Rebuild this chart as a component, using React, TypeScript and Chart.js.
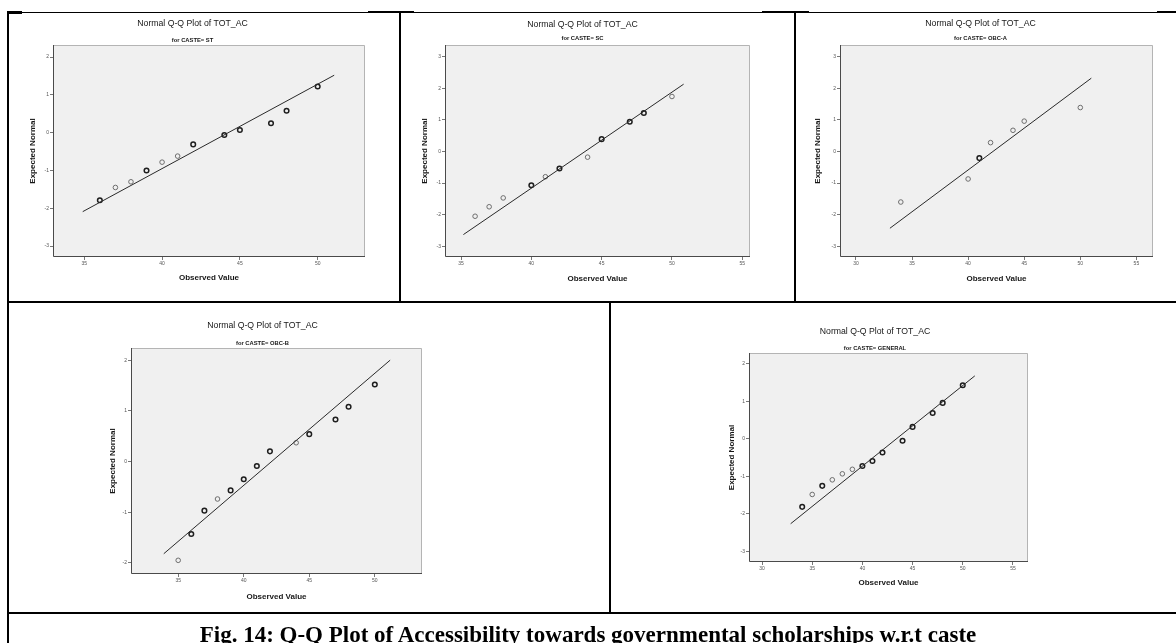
import React, { useEffect, useRef } from 'react';
import { Chart, registerables } from 'chart.js';

Chart.register(...registerables);

// ---- Text ----
const plotTitle = 'Normal Q-Q Plot of TOT_AC';
const xAxisTitle = 'Observed Value';
const yAxisTitle = 'Expected Normal';
const caption = 'Fig. 14: Q-Q Plot of Accessibility towards governmental scholarships w.r.t caste';

// ---- CASTE = ST ----
const stObserved = [36, 37, 38, 39, 40, 41, 42, 44, 45, 47, 48, 50];
const stExpected = [-1.79, -1.45, -1.3, -1.0, -0.78, -0.62, -0.31, -0.06, 0.07, 0.25, 0.58, 1.22];
const stTies = [2, 1, 1, 2, 1, 1, 2, 2, 2, 2, 2, 2];
const stLineX = [34.9, 51.06];
const stLineY = [-2.09, 1.52];
const stXTicks = [35, 40, 45, 50];
const stYTicks = [-3, -2, -1, 0, 1, 2];

// ---- CASTE = SC ----
const scObserved = [36, 37, 38, 40, 41, 42, 44, 45, 47, 48, 50];
const scExpected = [-2.05, -1.75, -1.47, -1.07, -0.8, -0.54, -0.18, 0.39, 0.94, 1.22, 1.74];
const scTies = [1, 1, 1, 2, 1, 2, 1, 2, 2, 2, 1];
const scLineX = [35.17, 50.83];
const scLineY = [-2.63, 2.13];
const scXTicks = [35, 40, 45, 50, 55];
const scYTicks = [-3, -2, -1, 0, 1, 2, 3];

// ---- CASTE = OBC-A ----
const obcAObserved = [34, 40, 41, 42, 44, 45, 50];
const obcAExpected = [-1.6, -0.87, -0.21, 0.28, 0.67, 0.96, 1.39];
const obcATies = [1, 1, 2, 1, 1, 1, 1];
const obcALineX = [33.03, 50.98];
const obcALineY = [-2.43, 2.32];
const obcAXTicks = [30, 35, 40, 45, 50, 55];
const obcAYTicks = [-3, -2, -1, 0, 1, 2, 3];

// ---- CASTE = OBC-B ----
const obcBObserved = [35, 36, 37, 38, 39, 40, 41, 42, 44, 45, 47, 48, 50];
const obcBExpected = [-1.95, -1.43, -0.97, -0.74, -0.57, -0.35, -0.09, 0.2, 0.37, 0.54, 0.83, 1.08, 1.52];
const obcBTies = [1, 2, 2, 1, 2, 2, 2, 2, 1, 2, 2, 2, 2];
const obcBLineX = [33.9, 51.17];
const obcBLineY = [-1.82, 2.0];
const obcBXTicks = [35, 40, 45, 50];
const obcBYTicks = [-2, -1, 0, 1, 2];

// ---- CASTE = GENERAL ----
const genObserved = [34, 35, 36, 37, 38, 39, 40, 41, 42, 44, 45, 47, 48, 50];
const genExpected = [-1.81, -1.48, -1.25, -1.09, -0.93, -0.81, -0.72, -0.59, -0.36, -0.05, 0.32, 0.69, 0.96, 1.43];
const genTies = [2, 1, 2, 1, 1, 1, 2, 2, 2, 2, 2, 2, 2, 2];
const genLineX = [32.85, 51.2];
const genLineY = [-2.26, 1.68];
const genXTicks = [30, 35, 40, 45, 50, 55];
const genYTicks = [-3, -2, -1, 0, 1, 2];

const FONT = "'Liberation Sans', Arial, sans-serif";
const TITLE_SIZE = 8.7;
const SUB_SIZE = 5.8;
const AXIS_SIZE = 8;
const TICK_SIZE = 5;

type Box = { l: number; t: number; r: number; b: number };

type PanelSpec = {
  group: string;
  observed: number[];
  expected: number[];
  ties: number[];
  lineX: number[];
  lineY: number[];
  xTicks: number[];
  yTicks: number[];
  xRange: [number, number];
  yRange: [number, number];
  plot: Box;
  titleCx: number;
  titleY: number;
  subY: number;
  ylabX: number;
  xlabY: number;
};

const panels: PanelSpec[] = [
  {
    group: 'ST', observed: stObserved, expected: stExpected, ties: stTies,
    lineX: stLineX, lineY: stLineY, xTicks: stXTicks, yTicks: stYTicks,
    xRange: [32.99, 53.04], yRange: [-3.29, 2.32],
    plot: { l: 53, t: 45, r: 365, b: 257 },
    titleCx: 193, titleY: 24, subY: 40.5, ylabX: 33, xlabY: 278,
  },
  {
    group: 'SC', observed: scObserved, expected: scExpected, ties: scTies,
    lineX: scLineX, lineY: scLineY, xTicks: scXTicks, yTicks: scYTicks,
    xRange: [33.86, 55.55], yRange: [-3.34, 3.37],
    plot: { l: 445, t: 45, r: 750, b: 257 },
    titleCx: 588, titleY: 25, subY: 38.5, ylabX: 425, xlabY: 279,
  },
  {
    group: 'OBC-A', observed: obcAObserved, expected: obcAExpected, ties: obcATies,
    lineX: obcALineX, lineY: obcALineY, xTicks: obcAXTicks, yTicks: obcAYTicks,
    xRange: [28.58, 56.48], yRange: [-3.34, 3.37],
    plot: { l: 840, t: 45, r: 1153, b: 257 },
    titleCx: 986, titleY: 24, subY: 38.5, ylabX: 818, xlabY: 279,
  },
  {
    group: 'OBC-B', observed: obcBObserved, expected: obcBExpected, ties: obcBTies,
    lineX: obcBLineX, lineY: obcBLineY, xTicks: obcBXTicks, yTicks: obcBYTicks,
    xRange: [31.4, 53.6], yRange: [-2.22, 2.24],
    plot: { l: 131, t: 348, r: 422, b: 574 },
    titleCx: 263, titleY: 326, subY: 343, ylabX: 113, xlabY: 597,
  },
  {
    group: 'GENERAL', observed: genObserved, expected: genExpected, ties: genTies,
    lineX: genLineX, lineY: genLineY, xTicks: genXTicks, yTicks: genYTicks,
    xRange: [28.7, 56.5], yRange: [-3.28, 2.29],
    plot: { l: 749, t: 353, r: 1028, b: 562 },
    titleCx: 876, titleY: 332, subY: 348, ylabX: 732, xlabY: 583,
  },
];

// Grey plot area with a dark left/bottom axis and light top/right edges
const framePlugin = {
  id: 'qqFrame',
  beforeDraw(chart: any) {
    const { ctx, chartArea: a } = chart;
    ctx.save();
    ctx.fillStyle = '#f0f0f0';
    ctx.fillRect(a.left, a.top, a.right - a.left, a.bottom - a.top);
    ctx.restore();
  },
  beforeDatasetsDraw(chart: any) {
    const { ctx, chartArea: a } = chart;
    ctx.save();
    ctx.lineWidth = 1;
    ctx.strokeStyle = '#b4b4b4';
    ctx.beginPath();
    ctx.moveTo(a.left, a.top + 0.5);
    ctx.lineTo(a.right - 0.5, a.top + 0.5);
    ctx.lineTo(a.right - 0.5, a.bottom);
    ctx.stroke();
    ctx.strokeStyle = '#4a4a4a';
    ctx.beginPath();
    ctx.moveTo(a.left + 0.5, a.top);
    ctx.lineTo(a.left + 0.5, a.bottom - 0.5);
    ctx.lineTo(a.right, a.bottom - 0.5);
    ctx.stroke();
    ctx.restore();
  },
};

function QQPanel({ spec }: { spec: PanelSpec }) {
  const ref = useRef<HTMLCanvasElement | null>(null);

  const { plot } = spec;
  const titleLH = TITLE_SIZE * 1.2;
  const subLH = SUB_SIZE * 1.2;
  const axisLH = AXIS_SIZE * 1.2;

  let left = spec.ylabX - 10;
  let right = 2 * spec.titleCx - left;
  if (right < plot.r + 1) {
    right = plot.r + 1;
    left = 2 * spec.titleCx - right;
  }
  const top = spec.titleY - 12;
  const bottom = spec.xlabY + 12;
  const width = Math.round(right - left);
  const height = Math.round(bottom - top);

  useEffect(() => {
    const canvas = ref.current;
    if (!canvas) return;

    const titlePadTop = spec.titleY - top - titleLH / 2;
    const subPadTop = spec.subY - subLH / 2 - (spec.titleY + titleLH / 2);
    const subPadBottom = Math.max(0, plot.t - (spec.subY + subLH / 2));
    const yAxisWidth = plot.l - left;
    const xAxisHeight = bottom - plot.b;
    const yTitlePad = spec.ylabX - left - axisLH / 2;
    const xTitlePad = bottom - spec.xlabY - axisLH / 2;
    const padRight = right - plot.r;

    const points = spec.observed.map((x, i) => ({ x, y: spec.expected[i] }));
    const line = spec.lineX.map((x, i) => ({ x, y: spec.lineY[i] }));

    const chart = new Chart(canvas, {
      type: 'scatter',
      data: {
        datasets: [
          {
            label: 'Reference line',
            data: line,
            showLine: true,
            borderColor: '#2a2a2a',
            borderWidth: 1,
            pointRadius: 0,
            fill: false,
          },
          {
            label: 'Observed',
            data: points,
            pointStyle: 'circle',
            pointRadius: 2.3,
            backgroundColor: 'rgba(0,0,0,0)',
            borderColor: spec.ties.map((t) => (t > 1 ? '#1e1e1e' : '#6e6e6e')),
            borderWidth: spec.ties.map((t) => (t > 1 ? 1.5 : 1)),
          },
        ],
      },
      options: {
        responsive: false,
        animation: false,
        events: [],
        layout: { autoPadding: false, padding: { left: 0, top: 0, bottom: 0, right: padRight } },
        plugins: {
          legend: { display: false },
          tooltip: { enabled: false },
          title: {
            display: true,
            text: plotTitle,
            color: '#161616',
            font: { family: FONT, size: TITLE_SIZE, weight: 'normal', lineHeight: 1.2 },
            padding: { top: titlePadTop, bottom: 0 },
          },
          subtitle: {
            display: true,
            text: 'for CASTE= ' + spec.group,
            color: '#161616',
            font: { family: FONT, size: SUB_SIZE, weight: 'bold', lineHeight: 1.2 },
            padding: { top: subPadTop, bottom: subPadBottom },
          },
        },
        scales: {
          x: {
            type: 'linear',
            min: spec.xRange[0],
            max: spec.xRange[1],
            afterBuildTicks: (s: any) => {
              s.ticks = spec.xTicks.map((v) => ({ value: v }));
            },
            afterFit: (s: any) => {
              s.height = xAxisHeight;
              s.paddingLeft = 0;
              s.paddingRight = 0;
            },
            ticks: {
              font: { family: FONT, size: TICK_SIZE },
              color: '#555',
              padding: 1,
              maxRotation: 0,
              autoSkip: false,
            },
            grid: { drawOnChartArea: false, drawTicks: true, tickLength: 3, color: '#777' },
            border: { display: false },
            title: {
              display: true,
              text: xAxisTitle,
              color: '#161616',
              font: { family: FONT, size: AXIS_SIZE, weight: 'bold', lineHeight: 1.2 },
              padding: { top: 0, bottom: xTitlePad },
            },
          },
          y: {
            type: 'linear',
            min: spec.yRange[0],
            max: spec.yRange[1],
            afterBuildTicks: (s: any) => {
              s.ticks = spec.yTicks.map((v) => ({ value: v }));
            },
            afterFit: (s: any) => {
              s.width = yAxisWidth;
              s.paddingTop = 0;
              s.paddingBottom = 0;
            },
            ticks: {
              font: { family: FONT, size: TICK_SIZE },
              color: '#555',
              padding: 1,
              autoSkip: false,
            },
            grid: { drawOnChartArea: false, drawTicks: true, tickLength: 3, color: '#777' },
            border: { display: false },
            title: {
              display: true,
              text: yAxisTitle,
              color: '#161616',
              font: { family: FONT, size: AXIS_SIZE, weight: 'bold', lineHeight: 1.2 },
              padding: { top: yTitlePad, bottom: 0 },
            },
          },
        },
      },
      plugins: [framePlugin],
    } as any);

    return () => chart.destroy();
  }, [spec]);

  return (
    <canvas
      ref={ref}
      width={width}
      height={height}
      style={{ position: 'absolute', left, top, width, height }}
    />
  );
}

function Rule({ x, y, w, h }: { x: number; y: number; w: number; h: number }) {
  return <div style={{ position: 'absolute', left: x, top: y, width: w, height: h, background: '#000' }} />;
}

export default function App() {
  return (
    <div
      style={{
        position: 'absolute',
        left: 0,
        top: 0,
        width: 1176,
        height: 643,
        overflow: 'hidden',
        background: '#fff',
      }}
    >
      {panels.map((p) => (
        <QQPanel key={p.group} spec={p} />
      ))}

      {/* table rules */}
      <Rule x={7} y={12} w={1169} h={1} />
      <Rule x={7} y={11} w={15} h={3} />
      <Rule x={368} y={11} w={46} h={2} />
      <Rule x={762} y={11} w={47} h={2} />
      <Rule x={1157} y={11} w={19} h={2} />
      <Rule x={7} y={11} w={2} h={632} />
      <Rule x={399} y={11} w={2} h={291} />
      <Rule x={794} y={11} w={2} h={291} />
      <Rule x={7} y={301} w={1169} h={2} />
      <Rule x={609} y={301} w={2} h={312} />
      <Rule x={7} y={612} w={1169} h={2} />

      <div
        style={{
          position: 'absolute',
          left: 0,
          top: 622,
          width: 1176,
          textAlign: 'center',
          fontFamily: "'Liberation Serif', 'Times New Roman', serif",
          fontWeight: 'bold',
          fontSize: 23,
          lineHeight: '26px',
          color: '#000',
          whiteSpace: 'nowrap',
        }}
      >
        {caption}
      </div>
    </div>
  );
}
